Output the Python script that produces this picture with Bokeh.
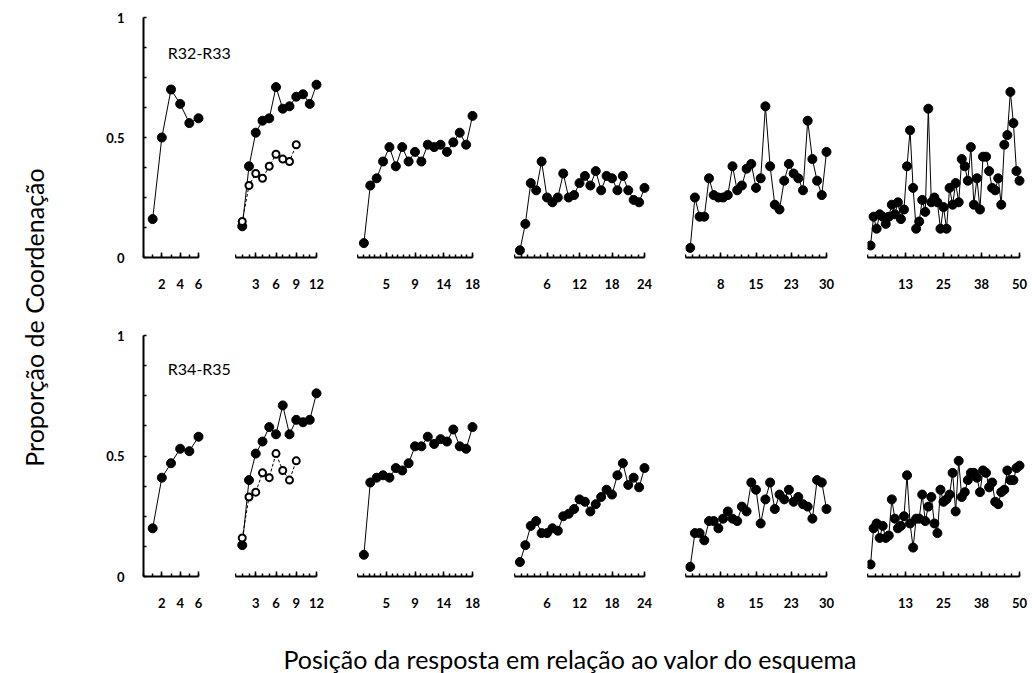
import math
from bokeh.plotting import figure
from bokeh.layouts import row, column
from bokeh.models import Range1d, FixedTicker, Label
from bokeh.embed import file_html
from bokeh.resources import INLINE

FONT = "Lato"

# ---- data: proportion of coordination by response position ----
row_names = ["R32-R33", "R34-R35"]
schedule_sizes = [6, 12, 18, 24, 30, 50]

r32_6 = [0.16, 0.50, 0.70, 0.64, 0.56, 0.58]
r32_12 = [0.13, 0.38, 0.52, 0.57, 0.58, 0.71, 0.62, 0.63, 0.67, 0.68, 0.64, 0.72]
r32_12_open = [0.15, 0.30, 0.35, 0.33, 0.38, 0.43, 0.41, 0.40, 0.47]
r32_18 = [0.06, 0.30, 0.33, 0.40, 0.46, 0.38, 0.46, 0.40, 0.44, 0.40, 0.47, 0.46,
          0.47, 0.44, 0.48, 0.52, 0.47, 0.59]
r32_24 = [0.03, 0.14, 0.31, 0.28, 0.40, 0.25, 0.23, 0.25, 0.35, 0.25, 0.26, 0.31,
          0.34, 0.30, 0.36, 0.28, 0.34, 0.33, 0.28, 0.34, 0.28, 0.24, 0.23, 0.29]
r32_30 = [0.04, 0.25, 0.17, 0.17, 0.33, 0.26, 0.25, 0.25, 0.26, 0.38, 0.28, 0.30,
          0.37, 0.39, 0.29, 0.33, 0.63, 0.38, 0.22, 0.20, 0.32, 0.39, 0.35, 0.33,
          0.28, 0.57, 0.41, 0.32, 0.26, 0.44]
r32_50 = [0.05, 0.17, 0.12, 0.18, 0.17, 0.14, 0.17, 0.22, 0.18, 0.23, 0.16, 0.20,
          0.38, 0.53, 0.29, 0.12, 0.15, 0.24, 0.19, 0.62, 0.23, 0.25, 0.23, 0.12,
          0.21, 0.12, 0.29, 0.22, 0.31, 0.23, 0.41, 0.38, 0.32, 0.46, 0.22, 0.33,
          0.20, 0.42, 0.42, 0.36, 0.29, 0.28, 0.33, 0.22, 0.47, 0.51, 0.69, 0.56,
          0.36, 0.32]

r34_6 = [0.20, 0.41, 0.47, 0.53, 0.52, 0.58]
r34_12 = [0.13, 0.40, 0.51, 0.56, 0.62, 0.59, 0.71, 0.59, 0.65, 0.64, 0.65, 0.76]
r34_12_open = [0.16, 0.33, 0.35, 0.43, 0.41, 0.51, 0.44, 0.40, 0.48]
r34_18 = [0.09, 0.39, 0.41, 0.42, 0.41, 0.45, 0.44, 0.47, 0.54, 0.54, 0.58, 0.55,
          0.57, 0.56, 0.61, 0.54, 0.53, 0.62]
r34_24 = [0.06, 0.13, 0.21, 0.23, 0.18, 0.18, 0.20, 0.19, 0.25, 0.26, 0.28, 0.32,
          0.31, 0.27, 0.30, 0.33, 0.36, 0.34, 0.42, 0.47, 0.38, 0.41, 0.37, 0.45]
r34_30 = [0.04, 0.18, 0.18, 0.15, 0.23, 0.23, 0.20, 0.24, 0.27, 0.24, 0.23, 0.29,
          0.27, 0.39, 0.36, 0.22, 0.32, 0.39, 0.28, 0.34, 0.32, 0.36, 0.31, 0.33,
          0.30, 0.29, 0.24, 0.40, 0.39, 0.28]
r34_50 = [0.05, 0.20, 0.22, 0.16, 0.21, 0.16, 0.17, 0.32, 0.24, 0.20, 0.21, 0.25,
          0.42, 0.22, 0.12, 0.24, 0.24, 0.34, 0.23, 0.29, 0.33, 0.22, 0.18, 0.36,
          0.31, 0.32, 0.34, 0.43, 0.27, 0.48, 0.33, 0.35, 0.40, 0.43, 0.43, 0.41,
          0.35, 0.44, 0.43, 0.37, 0.39, 0.31, 0.30, 0.35, 0.36, 0.44, 0.40, 0.40,
          0.45, 0.46]

# major tick positions and their printed labels for each schedule panel
x_tick_values = [[2, 4, 6], [3, 6, 9, 12], [4.5, 9, 13.5, 18], [6, 12, 18, 24],
                 [7.5, 15, 22.5, 30], [12.5, 25, 37.5, 50]]
x_tick_text = [["2", "4", "6"], ["3", "6", "9", "12"], ["5", "9", "14", "18"],
               ["6", "12", "18", "24"], ["8", "15", "23", "30"], ["13", "25", "38", "50"]]
x_minor_step = [1, 1, 0.9, 1.2, 1.5, 2.5]
y_tick_values = [0, 0.5, 1]
y_tick_text = ["0", "0.5", "1"]
y_minor_values = [0.125, 0.25, 0.375, 0.625, 0.75, 0.875]

y_title = "Proporção de Coordenação"
x_title = "Posição da resposta em relação ao valor do esquema"

rows_filled = [[r32_6, r32_12, r32_18, r32_24, r32_30, r32_50],
               [r34_6, r34_12, r34_18, r34_24, r34_30, r34_50]]
rows_open = [r32_12_open, r34_12_open]

# ---- layout (pixels) ----
YT_W = 60
axis_px = [55, 81, 115, 130, 141, 152]      # length of each x axis
frame_px = [92, 122, 157, 171, 182, 165]    # frame incl. the gap to the next panel
border_l = [83, 0, 0, 0, 0, 0]
row_borders = [(17, 60, 240), (18, 40, 241)]  # top, bottom, frame height


def minor_for(i):
    xmax = schedule_sizes[i]
    step = x_minor_step[i]
    n = int(round(xmax / step))
    return [round(k * step, 4) for k in range(n + 1)]


def style_axis(ax, major_in):
    ax.axis_line_width = 2
    ax.axis_line_color = "black"
    ax.major_tick_line_color = "black"
    ax.minor_tick_line_color = "black"
    ax.major_tick_line_width = 1.5
    ax.minor_tick_line_width = 1.5
    ax.major_tick_in = major_in
    ax.major_tick_out = 0
    ax.minor_tick_in = 3
    ax.minor_tick_out = 0
    ax.major_label_text_font = FONT
    ax.major_label_text_font_size = "13px"
    ax.major_label_text_font_style = "bold"
    ax.major_label_text_color = "black"


def make_panel(r, i):
    xmax = schedule_sizes[i]
    top, bottom, fh = row_borders[r]
    p = figure(frame_width=frame_px[i], frame_height=fh,
               x_range=Range1d(0, xmax * frame_px[i] / axis_px[i]), y_range=Range1d(0, 1),
               min_border_left=border_l[i], min_border_right=0,
               min_border_top=top, min_border_bottom=bottom,
               toolbar_location=None, output_backend="svg",
               outline_line_color=None,
               y_axis_location="left" if i == 0 else None)
    p.grid.visible = False

    xa = p.xaxis[0]
    xa.bounds = (0, xmax)
    xa.ticker = FixedTicker(ticks=x_tick_values[i], minor_ticks=minor_for(i))
    xa.major_label_overrides = {v: t for v, t in zip(x_tick_values[i], x_tick_text[i])}
    style_axis(xa, 5)
    xa.major_label_standoff = 21
    if i == 0:
        ya = p.yaxis[0]
        ya.bounds = (0, 1)
        ya.ticker = FixedTicker(ticks=y_tick_values, minor_ticks=y_minor_values)
        ya.major_label_overrides = {v: t for v, t in zip(y_tick_values, y_tick_text)}
        style_axis(ya, 3)
        ya.major_label_standoff = 19
        p.add_layout(Label(x=2.65, y=0.855 if r == 0 else 0.865, text=row_names[r],
                           text_font=FONT, text_font_size="16px", text_color="black",
                           text_baseline="middle", text_align="left"))

    ys = rows_filled[r][i]
    xs = list(range(1, len(ys) + 1))
    p.line(xs, ys, line_color="black", line_width=1)
    p.scatter(xs, ys, marker="circle", size=9, fill_color="black", line_color="black")
    if i == 1:
        yo = rows_open[r]
        xo = list(range(1, len(yo) + 1))
        p.line(xo, yo, line_color="black", line_width=1, line_dash="3 2")
        p.scatter(xo, yo, marker="circle", size=7, fill_color="white",
                  line_color="black", line_width=2)
    return p


def text_figure(w, h):
    f = figure(width=w, height=h, x_range=Range1d(0, w), y_range=Range1d(0, h),
               toolbar_location=None, output_backend="svg", min_border=0,
               outline_line_color=None, x_axis_location=None, y_axis_location=None)
    f.grid.visible = False
    return f


yt = text_figure(YT_W, 673)
yt.add_layout(Label(x=33, y=673 - 317, text=y_title, angle=math.pi / 2,
                    text_font=FONT, text_font_size="25px", text_color="black",
                    text_align="center", text_baseline="middle"))

xt = text_figure(1032 - YT_W, 57)
xt.add_layout(Label(x=570 - YT_W, y=15, text=x_title, text_font=FONT,
                    text_font_size="25px", text_color="black",
                    text_align="center", text_baseline="middle"))

panel_rows = [row(*[make_panel(r, i) for i in range(6)]) for r in range(2)]
layout = row(yt, column(panel_rows[0], panel_rows[1], xt))

open("out.html", "w").write(file_html(layout, INLINE))
